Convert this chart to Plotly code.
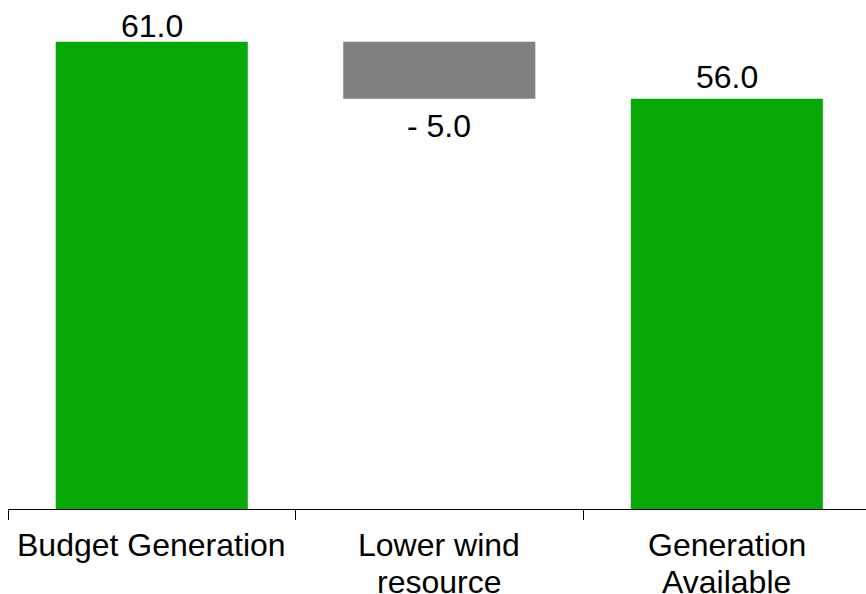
import plotly.graph_objects as go

# Waterfall: budgeted generation, the wind-resource shortfall, and what is left
categories = ["Budget Generation", "Lower wind\nresource", "Generation\nAvailable"]
values = [61.0, -5.0, 56.0]
measures = ["absolute", "relative", "total"]

GREEN = "#08A808"
GREY = "#808080"
FONT = "Liberation Sans, Arial, sans-serif"
SIZE = 32


def fmt(v):
    return f"- {abs(v):.1f}" if v < 0 else f"{v:.1f}"


fig = go.Figure(
    go.Waterfall(
        x=categories,
        y=values,
        measure=measures,
        textposition="none",
        width=0.668,
        increasing=dict(marker=dict(color=GREEN)),
        decreasing=dict(marker=dict(color=GREY)),
        totals=dict(marker=dict(color=GREEN)),
        connector=dict(visible=False),
        hoverinfo="skip",
    )
)

# Value labels: above the end of rising/total bars, below the end of falling ones
running = 0.0
for i, (cat, v, m) in enumerate(zip(categories, values, measures)):
    running = running + v if m == "relative" else v
    if v < 0:
        shift = -27
    elif i == 0:
        shift = 16
    else:
        shift = 22
    fig.add_annotation(
        x=cat,
        y=running,
        text=fmt(v),
        showarrow=False,
        xanchor="center",
        yanchor="middle",
        yshift=shift,
        font=dict(family=FONT, size=SIZE, color="#000000"),
    )

# Category names under the axis, one line each with tight line spacing
for cat in categories:
    for j, line in enumerate(cat.split("\n")):
        fig.add_annotation(
            x=cat,
            xref="x",
            y=0,
            yref="paper",
            text=line,
            showarrow=False,
            xanchor="center",
            yanchor="middle",
            yshift=-36 - 37 * j,
            font=dict(family=FONT, size=SIZE, color="#000000"),
        )

fig.update_layout(
    width=866,
    height=594,
    margin=dict(l=8, r=0, t=0, b=85),
    paper_bgcolor="#FFFFFF",
    plot_bgcolor="#FFFFFF",
    showlegend=False,
    font=dict(family=FONT, size=SIZE, color="#000000"),
)

fig.update_xaxes(
    type="category",
    range=[-0.5, 2.484],
    automargin=False,
    showline=True,
    linecolor="#000000",
    linewidth=1,
    ticks="outside",
    tickson="boundaries",
    ticklen=10,
    tickwidth=1,
    tickcolor="#000000",
    showticklabels=False,
    showgrid=False,
)

fig.update_yaxes(
    range=[20, 64.66],
    visible=False,
    showgrid=False,
    zeroline=False,
)

fig.write_html("out.html")
